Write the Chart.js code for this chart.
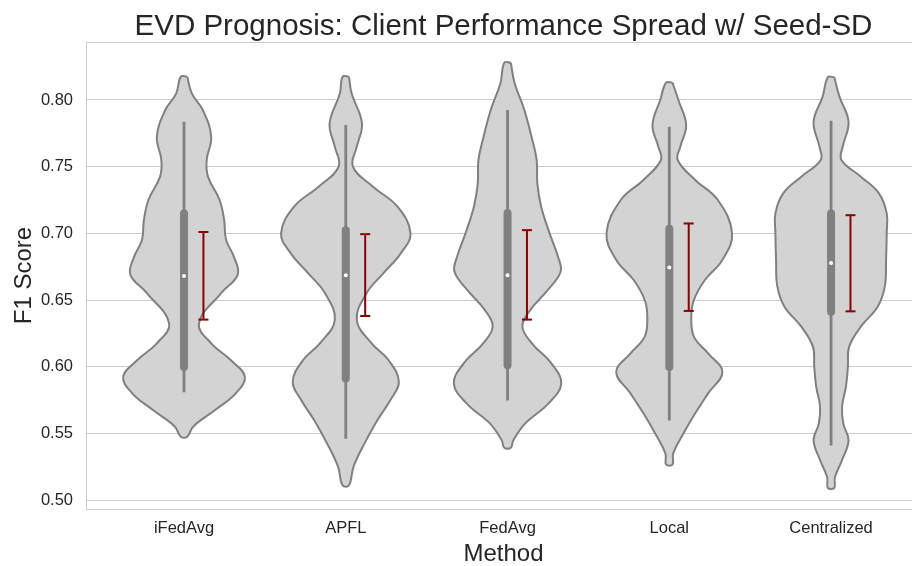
<!DOCTYPE html>
<html>
<head>
<meta charset="utf-8">
<title>EVD Prognosis violin</title>
<script src="https://cdn.jsdelivr.net/npm/chart.js@4.4.1/dist/chart.umd.min.js"></script>
<style>
  html, body { margin: 0; padding: 0; overflow: hidden; background: #ffffff; }
  #wrap { width: 928px; height: 566px; }
</style>
</head>
<body>
<div id="wrap"><canvas id="chartViolin" width="928" height="566"></canvas></div>
<script>
// --- DATA ---
const methods = ['iFedAvg', 'APFL', 'FedAvg', 'Local', 'Centralized'];
const yTicks = [0.50, 0.55, 0.60, 0.65, 0.70, 0.75, 0.80];

// violin outlines: F1 grid (top -> bottom) and relative density (1 = widest violin)
const gridIFedAvg = [0.8175, 0.805, 0.7925, 0.7725, 0.755, 0.7425, 0.725, 0.71, 0.695, 0.6825, 0.669, 0.655, 0.6325, 0.6175, 0.605, 0.5925, 0.58, 0.5675, 0.555, 0.5475];
const densIFedAvg = [0.05, 0.12, 0.29, 0.42, 0.35, 0.37, 0.55, 0.62, 0.65, 0.77, 0.83, 0.57, 0.23, 0.42, 0.72, 0.94, 0.80, 0.48, 0.14, 0.05];

const gridAPFL = [0.8175, 0.805, 0.7825, 0.765, 0.75, 0.735, 0.72, 0.70, 0.685, 0.67, 0.655, 0.635, 0.6175, 0.605, 0.5887, 0.575, 0.56, 0.5425, 0.525, 0.511];
const densAPFL = [0.05, 0.09, 0.25, 0.17, 0.11, 0.42, 0.80, 1.0, 0.85, 0.58, 0.32, 0.17, 0.40, 0.66, 0.82, 0.69, 0.49, 0.29, 0.12, 0.05];

const gridFedAvg = [0.828, 0.8126, 0.7925, 0.7725, 0.755, 0.7375, 0.72, 0.70, 0.6824, 0.6712, 0.6574, 0.6424, 0.6299, 0.6173, 0.6023, 0.5873, 0.5723, 0.5573, 0.5448, 0.5392];
const densFedAvg = [0.05, 0.11, 0.26, 0.37, 0.45, 0.46, 0.52, 0.65, 0.78, 0.82, 0.62, 0.35, 0.23, 0.38, 0.68, 0.83, 0.63, 0.27, 0.09, 0.05];

const gridLocal = [0.813, 0.80, 0.7812, 0.765, 0.755, 0.74, 0.725, 0.70, 0.68, 0.665, 0.65, 0.6375, 0.6225, 0.61, 0.596, 0.58, 0.565, 0.55, 0.535, 0.5266];
const densLocal = [0.05, 0.14, 0.26, 0.17, 0.13, 0.40, 0.75, 0.97, 0.82, 0.55, 0.38, 0.34, 0.38, 0.60, 0.82, 0.60, 0.40, 0.22, 0.06, 0.05];

const gridCentralized = [0.817, 0.8025, 0.7837, 0.765, 0.755, 0.7425, 0.73, 0.715, 0.70, 0.68, 0.66, 0.645, 0.63, 0.615, 0.60, 0.585, 0.57, 0.5572, 0.5447, 0.53, 0.517, 0.5091];
const densCentralized = [0.05, 0.13, 0.27, 0.18, 0.16, 0.46, 0.74, 0.86, 0.86, 0.85, 0.83, 0.72, 0.46, 0.28, 0.26, 0.23, 0.17, 0.19, 0.27, 0.17, 0.06, 0.05];

// inner box
const medians     = [0.668, 0.6686, 0.6686, 0.6743, 0.6778];
const q1          = [0.5998, 0.5911, 0.6011, 0.5998, 0.6411];
const q3          = [0.7148, 0.7023, 0.7153, 0.7035, 0.7148];
const whiskerLow  = [0.5809, 0.5459, 0.5747, 0.5597, 0.5409];
const whiskerHigh = [0.7837, 0.7812, 0.7925, 0.78, 0.7845];

// seed-SD error bars
const seedLow  = [0.6353, 0.638, 0.6353, 0.6418, 0.6415];
const seedHigh = [0.701, 0.6994, 0.7024, 0.7074, 0.7136];

// --- STYLE ---
const colorFill = '#d3d3d3';
const colorEdge = '#808080';
const colorErr = '#8b0000';
const colorGrid = '#cccccc';
const colorText = '#262626';
const halfWidth = 0.4;
const errOffset = 0.12;

Chart.defaults.font.family = "'Liberation Sans', Arial, sans-serif";
Chart.defaults.color = colorText;

const violinGrids = [gridIFedAvg, gridAPFL, gridFedAvg, gridLocal, gridCentralized];
const violinDens = [densIFedAvg, densAPFL, densFedAvg, densLocal, densCentralized];

const datasets = [];
methods.forEach(function(m, i) {
    const right = violinGrids[i].map((v, k) => ({ x: i + violinDens[i][k] * halfWidth, y: v }));
    const left = violinGrids[i].map((v, k) => ({ x: i - violinDens[i][k] * halfWidth, y: v })).reverse();
    datasets.push({
        label: m,
        data: right.concat(left, [right[0]]),
        borderColor: colorEdge,
        backgroundColor: colorFill,
        borderWidth: 2,
        fill: 'shape',
        tension: 0.4,
        pointRadius: 0,
        order: 5
    });
    // whisker
    datasets.push({
        data: [{ x: i, y: whiskerLow[i] }, { x: i, y: whiskerHigh[i] }],
        borderColor: colorEdge,
        borderWidth: 2.8,
        pointRadius: 0,
        order: 4
    });
    // box
    datasets.push({
        data: [{ x: i, y: q1[i] }, { x: i, y: q3[i] }],
        borderColor: colorEdge,
        borderWidth: 8,
        borderCapStyle: 'round',
        pointRadius: 0,
        order: 3
    });
    // median
    datasets.push({
        data: [{ x: i, y: medians[i] }],
        showLine: false,
        pointRadius: 2,
        pointBackgroundColor: '#ffffff',
        pointBorderWidth: 0,
        order: 2
    });
    // seed SD
    datasets.push({
        data: [{ x: i + errOffset, y: seedLow[i] }, { x: i + errOffset, y: seedHigh[i] }],
        borderColor: colorErr,
        borderWidth: 2,
        pointStyle: 'line',
        pointRadius: 5,
        pointBorderColor: colorErr,
        pointBorderWidth: 2,
        order: 1
    });
});

// top spine (seaborn whitegrid frame)
const topSpine = {
    id: 'topSpine',
    beforeDatasetsDraw(chart) {
        const a = chart.chartArea, ctx = chart.ctx;
        ctx.save();
        ctx.strokeStyle = colorGrid;
        ctx.lineWidth = 1;
        ctx.beginPath();
        ctx.moveTo(a.left, a.top + 0.5);
        ctx.lineTo(a.right, a.top + 0.5);
        ctx.stroke();
        ctx.restore();
    }
};

new Chart(document.getElementById('chartViolin'), {
    type: 'line',
    data: { datasets: datasets },
    plugins: [topSpine],
    options: {
        responsive: false,
        animation: false,
        events: [],
        layout: { padding: 0 },
        plugins: {
            legend: { display: false },
            tooltip: { enabled: false },
            title: {
                display: true,
                text: 'EVD Prognosis: Client Performance Spread w/ Seed-SD',
                fullSize: false,
                color: colorText,
                font: { size: 29.5, weight: 'normal', lineHeight: 1.0 },
                padding: { top: 12, bottom: 0.5 }
            }
        },
        scales: {
            x: {
                type: 'linear',
                min: -0.606,
                max: 4.556,
                afterBuildTicks: s => { s.ticks = methods.map((_, i) => ({ value: i })); },
                afterFit: s => { s.height = 57; },
                grid: { display: false, drawTicks: false },
                border: { display: true, color: colorGrid, width: 1 },
                ticks: {
                    padding: 10,
                    color: colorText,
                    font: { size: 16.5 },
                    callback: v => methods[v]
                },
                title: {
                    display: true,
                    text: 'Method',
                    color: colorText,
                    font: { size: 24, lineHeight: 1.0 },
                    padding: { top: 0, bottom: 0 }
                }
            },
            y: {
                min: 0.49325,
                max: 0.8435,
                afterBuildTicks: s => { s.ticks = yTicks.map(v => ({ value: v })); },
                afterFit: s => { s.width = 86; },
                grid: { color: colorGrid, lineWidth: 1, drawTicks: false },
                border: { display: true, color: colorGrid, width: 1 },
                ticks: {
                    padding: 13,
                    color: colorText,
                    font: { size: 16.5 },
                    callback: v => v.toFixed(2)
                },
                title: {
                    display: true,
                    text: 'F1 Score',
                    color: colorText,
                    font: { size: 24 },
                    padding: { top: 10, bottom: 0 }
                }
            }
        }
    }
});
</script>
</body>
</html>
